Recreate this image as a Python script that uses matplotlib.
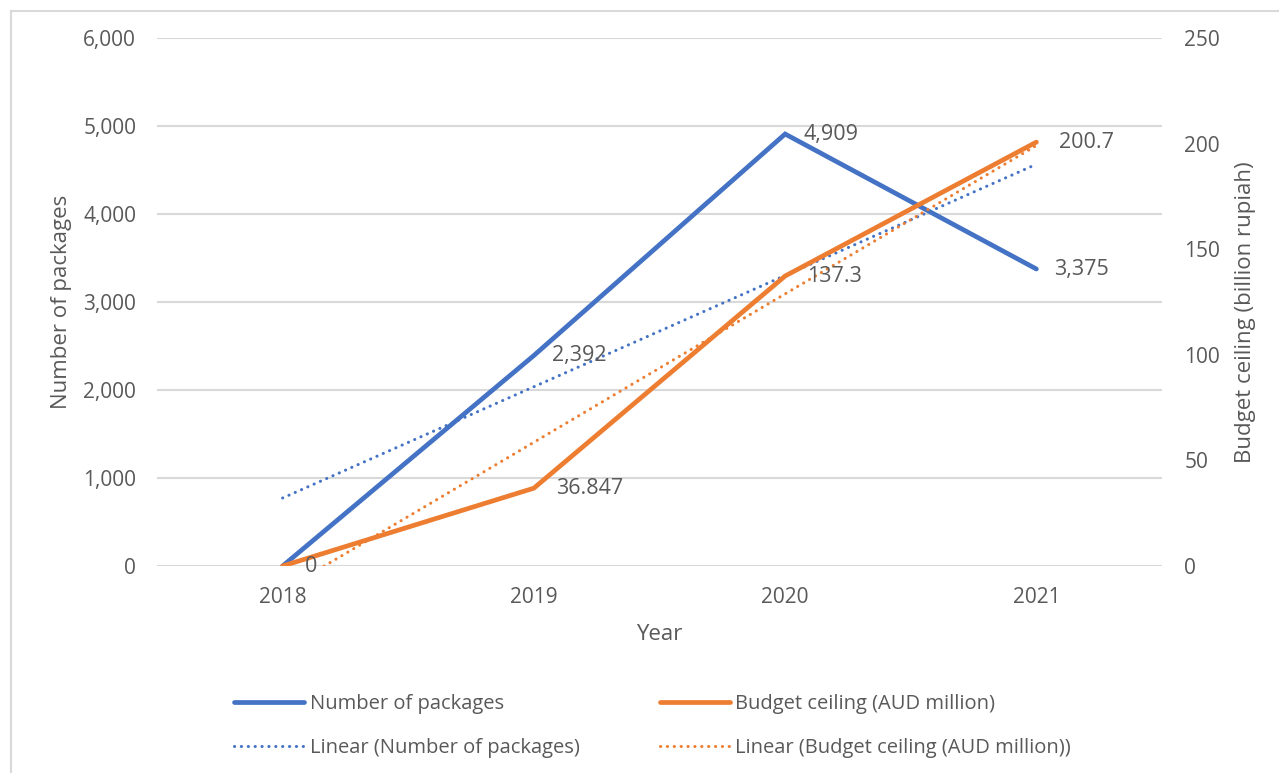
import numpy as np
import matplotlib
matplotlib.use("Agg")
import matplotlib.pyplot as plt
from matplotlib.lines import Line2D
from matplotlib.ticker import FuncFormatter, MultipleLocator

plt.rcParams['font.family'] = ['Open Sans', 'DejaVu Sans']

years = ["2018", "2019", "2020", "2021"]
packages = [0, 2392, 4909, 3375]
budget = [0, 36.847, 137.3, 200.7]
package_labels = ["", "2,392", "4,909", "3,375"]
budget_labels = ["0", "36.847", "137.3", "200.7"]

BLUE = "#4472C4"
ORANGE = "#ED7D31"
TXT = "#595959"
GRID = "#D9D9D9"
FS_TICK = 15
FS_DATA = 15.5
FS_TITLE = 16
FS_LEG = 14.5
DOT = (0, (0.05, 2.2))

W, H = 1279, 773
fig = plt.figure(figsize=(W / 100, H / 100), dpi=100)

# chart border
fig.add_artist(Line2D([10.5 / W, 10.5 / W], [0, 1 - 10.5 / H], color=GRID, lw=1.5, transform=fig.transFigure))
fig.add_artist(Line2D([10.5 / W, 1], [1 - 10.5 / H, 1 - 10.5 / H], color=GRID, lw=1.5, transform=fig.transFigure))

left, right = 157 / W, 1162 / W
bottom, top = 1 - 566 / H, 1 - 38 / H
ax1 = fig.add_axes([left, bottom, right - left, top - bottom])
ax2 = ax1.twinx()

x = np.arange(len(years))

ax1.set_xlim(-0.5, len(years) - 0.5)
ax1.set_ylim(0, 6000)
ax2.set_ylim(0, 250)
ax1.yaxis.set_major_locator(MultipleLocator(1000))
ax2.yaxis.set_major_locator(MultipleLocator(50))
ax1.yaxis.set_major_formatter(FuncFormatter(lambda v, p: f"{int(v):,}"))
ax1.set_xticks(x)
ax1.set_xticklabels(years)

for a in (ax1, ax2):
    for s in a.spines.values():
        s.set_visible(False)
    a.tick_params(length=0, colors=TXT, labelsize=FS_TICK)
ax1.tick_params(axis='y', pad=15)
ax2.tick_params(axis='y', pad=16)
ax1.tick_params(axis='x', pad=15)
ax1.grid(axis='y', color=GRID, lw=1.5)
ax1.set_axisbelow(True)

# trend lines (least-squares fit of the series)
pc = np.polyfit(x, packages, 1)
bc = np.polyfit(x, budget, 1)

l1, = ax1.plot(x, packages, color=BLUE, lw=3.4, solid_capstyle='round', solid_joinstyle='miter', zorder=3)
t1, = ax1.plot(x, np.polyval(pc, x), color=BLUE, lw=2.2, ls=DOT, dash_capstyle='round', zorder=2)
l2, = ax2.plot(x, budget, color=ORANGE, lw=3.4, solid_capstyle='round', solid_joinstyle='miter', zorder=3)
t2, = ax2.plot(x, np.polyval(bc, x), color=ORANGE, lw=2.2, ls=DOT, dash_capstyle='round', zorder=2)

for xi, yi, lab in zip(x, packages, package_labels):
    if lab:
        ax1.annotate(lab, (xi, yi), xytext=(13, 0), textcoords='offset points',
                     ha='left', va='center', fontsize=FS_DATA, color=TXT)
for xi, yi, lab in zip(x, budget, budget_labels):
    ax2.annotate(lab, (xi, yi), xytext=(16, 0), textcoords='offset points',
                 ha='left', va='center', fontsize=FS_DATA, color=TXT)

fig.text(62 / W, 1 - 302 / H, "Number of packages", rotation=90, ha='center', va='center',
         fontsize=FS_TITLE, color=TXT)
fig.text(1245 / W, 1 - 312 / H, "Budget ceiling (billion rupiah)", rotation=90, ha='center', va='center',
         fontsize=FS_TITLE, color=TXT)
fig.text(659 / W, 1 - 634 / H, "Year", ha='center', va='center', fontsize=FS_TITLE, color=TXT)

handles = [Line2D([], [], color=BLUE, lw=3.4, solid_capstyle='round'),
           Line2D([], [], color=BLUE, lw=2.2, ls=DOT, dash_capstyle='round'),
           Line2D([], [], color=ORANGE, lw=3.4, solid_capstyle='round'),
           Line2D([], [], color=ORANGE, lw=2.2, ls=DOT, dash_capstyle='round')]
labels = ["Number of packages", "Linear (Number of packages)",
          "Budget ceiling (AUD million)", "Linear (Budget ceiling (AUD million))"]
leg = fig.legend(handles, labels, ncol=2, loc='upper left',
                 bbox_to_anchor=(234 / W, 1 - 694 / H), frameon=False,
                 fontsize=FS_LEG, labelcolor=TXT, handlelength=3.5, handletextpad=0.25,
                 columnspacing=4.0, labelspacing=1.2, borderpad=0, borderaxespad=0)

fig.savefig("out.png", dpi=100)
